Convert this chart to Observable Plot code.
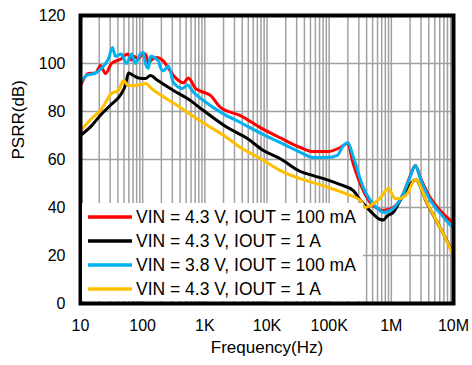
<!DOCTYPE html>
<html>
<head>
<meta charset="utf-8">
<script src="https://cdn.jsdelivr.net/npm/d3@7"></script>
<script src="https://cdn.jsdelivr.net/npm/@observablehq/plot@0.6"></script>
<style>
  html, body { margin: 0; padding: 0; background: white; }
  #chart { width: 472px; height: 365px; }
</style>
</head>
<body>
<div id="chart"></div>
<script>
// ---- Data ----
const seriesNames = [
  "VIN = 4.3 V, IOUT = 100 mA",
  "VIN = 4.3 V, IOUT = 1 A",
  "VIN = 3.8 V, IOUT = 100 mA",
  "VIN = 4.3 V, IOUT = 1 A"
];
const seriesColors = ["#FF0000", "#000000", "#00B0F0", "#FFC000"];

const freqRed = [10, 13.4, 17.4, 21, 25.2, 31.5, 45.6, 57, 66, 71.1, 85.6, 99.3, 111, 124, 133, 167, 216, 260, 313, 453, 545, 706, 849, 1230, 1781, 3733, 7834, 16410, 34400, 55700, 93500, 151400, 196200, 245000, 354600, 459300, 595600, 743600, 1077000, 1559000, 2020000, 2430000, 2930000, 4240000, 6140000, 8890000, 10000000];
const dbRed   = [90.8, 95.8, 96, 99.2, 95.8, 100, 102, 104, 101.5, 103, 102, 104, 104, 100, 101, 102.5, 101, 98, 95, 92, 94, 89.6, 88.5, 86.7, 81.7, 78.3, 73.3, 69, 65, 63.3, 63.3, 65, 66.7, 58, 47, 42, 39.6, 38.75, 40, 45.8, 53.3, 57.5, 52.5, 44, 38.75, 34.6, 33.5];

const freqBlack = [10, 15, 21.8, 31.5, 45.6, 52.9, 59.1, 71.1, 85.6, 111, 133, 173, 313, 525, 949, 2307, 4839, 8750, 16410, 34400, 55700, 93500, 151400, 245000, 317500, 459300, 665400, 743600, 862600, 1077000, 1395000, 2258000, 2430000, 3790000, 6860000, 10000000];
const dbBlack   = [70, 74, 79, 83, 87.5, 91, 96, 95, 94, 93.75, 95, 93, 88.75, 85.4, 80.4, 73.3, 68.75, 63.75, 60.3, 55, 53.3, 51.5, 49.5, 47, 43, 38.5, 35, 34.8, 36.5, 38, 43, 51, 51.7, 41.5, 29, 20.5];

const freqBlue = [10, 12.5, 17.4, 21.8, 28.2, 32.7, 36.5, 45.6, 54.9, 66.1, 76.6, 92.2, 103, 111, 124, 133, 179.5, 193, 216, 260, 313, 436, 525, 656, 949, 1991, 3733, 7834, 16410, 34400, 55700, 93500, 135500, 169200, 200000, 245000, 354600, 459300, 595600, 743600, 1077000, 1559000, 2020000, 2430000, 2930000, 4240000, 6140000, 8890000, 10000000];
const dbBlue   = [92, 95, 96, 98, 102, 106.7, 103, 104, 100, 104, 100, 104, 104.6, 100, 98, 103, 101, 98.3, 97, 99, 92, 89.6, 91, 88, 84.6, 79, 75.4, 71, 67, 63, 60.8, 60.8, 61.7, 65.8, 67, 61, 48.3, 43, 39.6, 38, 39.6, 45.8, 53, 57.5, 52, 43, 37.5, 32.8, 31.7];

const freqYellow = [10, 15, 21.8, 31.5, 40.8, 49.1, 59.1, 76.6, 111, 138.5, 179.5, 313, 849, 2307, 3733, 7834, 16410, 34400, 93500, 196200, 317500, 381900, 459300, 665400, 895700, 1160000, 1395000, 1808000, 2430000, 3790000, 6860000, 10000000];
const dbYellow   = [72, 77, 81, 87.5, 88.75, 92.9, 90.8, 90.8, 91.7, 89.6, 87.5, 83.5, 76, 69, 65, 60.4, 55.4, 52, 48.5, 45.5, 43, 40, 40.8, 44, 47.9, 43.75, 43.75, 45.8, 51.7, 41.7, 29, 20];

const xTicks = [10, 100, 1e3, 1e4, 1e5, 1e6, 1e7];
const xTickLabels = ["10", "100", "1K", "10K", "100K", "1M", "10M"];
const yTicks = [0, 20, 40, 60, 80, 100, 120];

// ---- Build tables ----
const toRows = (fs, ds) => fs.map((f, i) => ({f, db: ds[i]}));
const red = toRows(freqRed, dbRed);
const black = toRows(freqBlack, dbBlack);
const blue = toRows(freqBlue, dbBlue);
const yellow = toRows(freqYellow, dbYellow);

const gridX = [];
for (let k = 1; k < 7; k++) for (let m = 1; m <= 9; m++) gridX.push(m * Math.pow(10, k));
gridX.push(1e7);
const gridY = yTicks.slice(1, -1);
const xLabelMap = new Map(xTicks.map((t, i) => [t, xTickLabels[i]]));

const font = "'Liberation Sans', Arial, sans-serif";
const lineOpts = (color) => ({x: "f", y: "db", stroke: color, strokeWidth: 3, curve: "monotone-x"});

const chart = Plot.plot({
  width: 472,
  height: 365,
  marginLeft: 80,
  marginRight: 19,
  marginTop: 15,
  marginBottom: 62,
  x: {type: "log", domain: [10, 1e7]},
  y: {domain: [0, 120]},
  style: {fontFamily: font, fontSize: "16px", color: "black", background: "white"},
  marks: [
    Plot.ruleX(gridX, {stroke: "#a0a0a0", strokeWidth: 1.5, strokeOpacity: 1}),
    Plot.ruleY(gridY, {stroke: "#a0a0a0", strokeWidth: 1.5, strokeOpacity: 1}),
    Plot.line(red, lineOpts(seriesColors[0])),
    Plot.line(black, lineOpts(seriesColors[1])),
    Plot.line(blue, lineOpts(seriesColors[2])),
    Plot.line(yellow, lineOpts(seriesColors[3])),
    Plot.axisX(xTicks, {tickSize: 0, tickPadding: 16, tickFormat: d => xLabelMap.get(d), label: null, fontSize: 16}),
    Plot.axisY(yTicks, {tickSize: 0, tickPadding: 15, label: null, fontSize: 16}),
    Plot.text(["Frequency(Hz)"], {frameAnchor: "bottom", dy: 49, fontSize: 17, fill: "black"}),
    Plot.text(["PSRR(dB)"], {frameAnchor: "left", dx: -62, rotate: -90, fontSize: 17, fill: "black"}),
    Plot.frame({stroke: "black", strokeWidth: 4})
  ]
});

document.getElementById("chart").appendChild(chart);

// ---- Legend (white box inside plot, lower-left) ----
const NS = "http://www.w3.org/2000/svg";
const svgEl = chart.tagName.toLowerCase() === "svg" ? chart : chart.querySelector("svg");
const lg = d3.select(svgEl).append("g").attr("class", "legend").attr("text-anchor", "start");
lg.append("rect")
  .attr("x", 82).attr("y", 203).attr("width", 281).attr("height", 98)
  .attr("fill", "#ffffff").attr("stroke", "none")
  .style("fill", "#ffffff");
const rowY = [217, 241, 265, 289];
seriesNames.forEach((name, i) => {
  lg.append("line").attr("x1", 88).attr("x2", 132).attr("y1", rowY[i]).attr("y2", rowY[i])
    .attr("stroke", seriesColors[i]).attr("stroke-width", 3.5);
  lg.append("text").attr("x", 136).attr("y", rowY[i]).attr("dy", "0.36em")
    .attr("text-anchor", "start")
    .attr("font-family", font).attr("font-size", 17.5).attr("fill", "black").text(name);
});
</script>
</body>
</html>
